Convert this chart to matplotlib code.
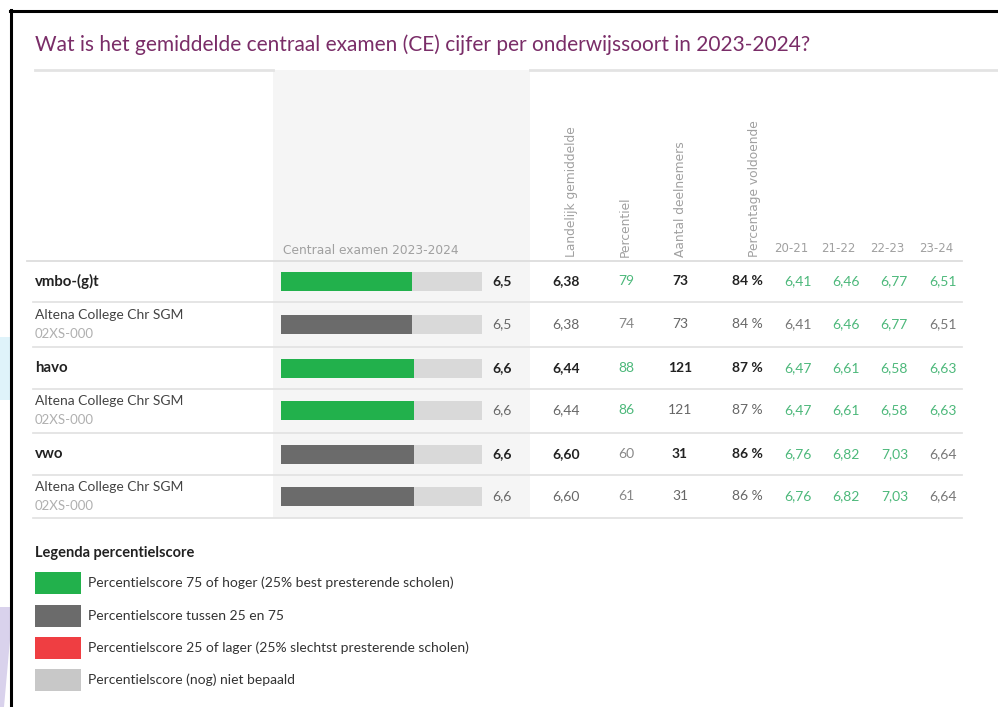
import matplotlib
matplotlib.use("Agg")
import matplotlib.pyplot as plt
from matplotlib.patches import Rectangle, Polygon

plt.rcParams['font.family'] = ['Lato', 'DejaVu Sans']

# data
titel = "Wat is het gemiddelde centraal examen (CE) cijfer per onderwijssoort in 2023-2024?"
rij_namen = ["vmbo-(g)t", "Altena College Chr SGM", "havo", "Altena College Chr SGM", "vwo", "Altena College Chr SGM"]
rij_sub = [None, "02XS-000", None, "02XS-000", None, "02XS-000"]
rij_vet = [True, False, True, False, True, False]
ce_cijfer = [6.5, 6.5, 6.6, 6.6, 6.6, 6.6]
landelijk = [6.38, 6.38, 6.44, 6.44, 6.60, 6.60]
percentiel = [79, 74, 88, 86, 60, 61]
deelnemers = [73, 73, 121, 121, 31, 31]
voldoende = [84, 84, 87, 87, 86, 86]
jaren = ["20-21", "21-22", "22-23", "23-24"]
trend = [[6.41, 6.46, 6.77, 6.51],
         [6.41, 6.46, 6.77, 6.51],
         [6.47, 6.61, 6.58, 6.63],
         [6.47, 6.61, 6.58, 6.63],
         [6.76, 6.82, 7.03, 6.64],
         [6.76, 6.82, 7.03, 6.64]]
trend_groen = [[1, 1, 1, 1], [0, 1, 1, 0], [1, 1, 1, 1], [1, 1, 1, 1], [1, 1, 1, 0], [1, 1, 1, 0]]
kop_kolommen = ["Landelijk gemiddelde", "Percentiel", "Aantal deelnemers", "Percentage voldoende"]
legenda_teksten = ["Percentielscore 75 of hoger (25% best presterende scholen)",
                   "Percentielscore tussen 25 en 75",
                   "Percentielscore 25 of lager (25% slechtst presterende scholen)",
                   "Percentielscore (nog) niet bepaald"]

# kleuren
GROEN = "#22b14c"
DONKER = "#6b6b6b"
ROOD = "#ef3e42"
LICHT = "#d9d9d9"
TGROEN = "#4cb87a"
TGRIJS = "#666666"
KOP = "#a0a0a0"
legenda_kleuren = [GROEN, DONKER, ROOD, "#c8c8c8"]
KOPFONT = ['DejaVu Sans']

fig = plt.figure(figsize=(9.98, 7.07), dpi=100)
ax = fig.add_axes([0, 0, 1, 1])
ax.set_xlim(0, 998)
ax.set_ylim(707, 0)
ax.axis("off")

# achtergrond / kader
ax.add_patch(Rectangle((0, 337), 10, 63, color="#dff3fa", lw=0))
ax.add_patch(Polygon([(0, 607), (10, 607), (10, 640), (4, 707), (0, 707)], color="#d9d2ec", lw=0))
ax.plot([11, 11], [10, 707], color="black", lw=2.2)
ax.plot([10, 998], [11, 11], color="black", lw=2.2)

ax.add_patch(Rectangle((273, 70), 257, 448, color="#f5f5f5", lw=0, zorder=0))
ax.text(35, 45, titel, color="#7a2d68", fontsize=15, va="center", ha="left")
ax.plot([35, 273], [70, 70], color="#e3e3e3", lw=2)
ax.plot([530, 998], [70, 70], color="#e3e3e3", lw=2)

# kolomkoppen
ax.text(283, 251, "Centraal examen 2023-2024", color=KOP, fontsize=8.8, va="center", family=KOPFONT)
kop_x = [572, 625, 681, 755]
for x, t in zip(kop_x, kop_kolommen):
    ax.text(x, 257, t, rotation=90, color=KOP, fontsize=8.8, ha="center", va="bottom", family=KOPFONT)
jaar_x = [810, 858, 906, 955]
for x, t in zip(jaar_x, jaren):
    ax.text(x - 2, 249, t, color=KOP, fontsize=8.5, ha="right", va="center", family=KOPFONT)

ax.plot([27, 962], [261, 261], color="#dddddd", lw=1.3)

rij_y = [281, 324, 368, 410, 454, 496]
lijn_y = [302, 347, 389, 433, 475, 518]

for i, y in enumerate(rij_y):
    vet = rij_vet[i]
    gewicht = "bold" if vet else "normal"
    hoofd = "#222222" if vet else TGRIJS
    if rij_sub[i] is None:
        ax.text(35, y, rij_namen[i], fontsize=10.8, fontweight="bold", color="#222222", va="center")
    else:
        ax.text(35, y - 9, rij_namen[i], fontsize=10, color="#444444", va="center")
        ax.text(35, y + 10, rij_sub[i], fontsize=9.5, color="#b0b0b0", va="center")
    ax.text(492, y, f"{ce_cijfer[i]:.1f}".replace(".", ","), fontsize=10, fontweight=gewicht,
            color=hoofd, va="center", ha="left")
    ax.text(566, y, f"{landelijk[i]:.2f}".replace(".", ","), fontsize=10, fontweight=gewicht,
            color=hoofd, va="center", ha="center")
    ax.text(626, y, str(percentiel[i]), fontsize=10, color=TGROEN if percentiel[i] >= 75 else "#888888",
            va="center", ha="center")
    ax.text(680, y, str(deelnemers[i]), fontsize=10, fontweight=gewicht, color=hoofd,
            va="center", ha="center")
    ax.text(763, y, f"{voldoende[i]} %", fontsize=10, fontweight=gewicht, color=hoofd,
            va="center", ha="right")
    for j, x in enumerate(jaar_x):
        ax.text(x + 2, y, f"{trend[i][j]:.2f}".replace(".", ","), fontsize=10,
                color=TGROEN if trend_groen[i][j] else "#777777", va="center", ha="right")
    ax.plot([33, 962], [lijn_y[i], lijn_y[i]], color="#e3e3e3", lw=1.3)

# balken met eigen schaal 0-10
bx = fig.add_axes([281 / 998, 0, 201 / 998, 1])
bx.set_xlim(0, 10)
bx.set_ylim(707, 0)
bx.axis("off")
bx.patch.set_alpha(0)
kleuren = [GROEN if p >= 75 else DONKER for p in percentiel]
bx.barh(rij_y, [10] * len(rij_y), height=19, color=LICHT, lw=0)
bx.barh(rij_y, ce_cijfer, height=19, color=kleuren, lw=0)

# legenda
ax.text(35, 553, "Legenda percentielscore", fontsize=10.5, fontweight="bold", color="#222222", va="center")
leg_y = [583, 616, 648, 680]
for y, k, t in zip(leg_y, legenda_kleuren, legenda_teksten):
    ax.add_patch(Rectangle((35, y - 11), 46, 22, color=k, lw=0))
    ax.text(88, y, t, fontsize=10, color="#333333", va="center")

fig.savefig("out.png", dpi=100)
